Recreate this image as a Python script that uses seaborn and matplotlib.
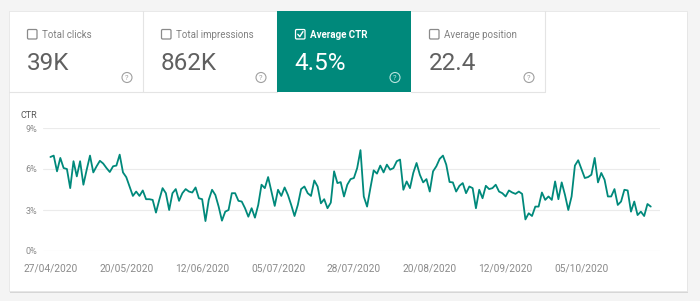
import matplotlib
matplotlib.use("Agg")
import matplotlib.pyplot as plt
import seaborn as sns
import pandas as pd
import numpy as np
from matplotlib.patches import Rectangle, Circle, FancyBboxPatch

# ---------------- data ----------------
start_date = "2020-04-27"
ctr_values = [
    6.88, 6.98, 5.83, 6.81, 6.07, 6.0, 4.6, 6.57, 5.46, 6.57, 4.85, 5.95, 6.98, 5.75, 6.2, 6.6,
    6.4, 6.07, 5.78, 6.2, 6.25, 7.05, 5.75, 5.4, 4.72, 4.03, 4.35, 4.03, 4.43, 3.79, 3.79,
    3.74, 2.81, 3.74, 4.6, 4.23, 3.0, 4.23, 4.53, 3.67, 4.23, 4.53, 4.35, 4.28, 4.65, 3.86,
    3.79, 2.19, 3.74, 4.48, 4.1, 3.25, 2.22, 2.88, 3.0, 4.23, 4.23, 3.67, 3.62, 3.13, 2.51,
    3.13, 2.44, 3.37, 4.85, 4.6, 5.41, 4.35, 3.3, 4.48, 4.03, 4.65, 4.1, 3.37, 2.56, 3.37,
    4.53, 4.72, 4.23, 4.03, 5.16, 4.72, 3.49, 3.79, 3.13, 3.54, 5.83, 4.97, 5.04, 3.99, 4.85,
    5.26, 5.34, 6.07, 7.38, 3.99, 3.25, 4.6, 5.9, 5.66, 6.25, 5.75, 6.32, 5.95, 6.07, 6.57,
    6.69, 4.48, 5.09, 4.6, 5.71, 6.44, 5.58, 5.02, 5.26, 4.35, 5.83, 6.2, 6.74, 6.98, 6.32, 5.05,
    5.02, 4.35, 4.77, 4.97, 4.23, 4.72, 4.6, 3.13, 4.48, 3.86, 4.77, 4.53, 4.6, 4.85, 4.35,
    4.23, 3.99, 4.43, 4.28, 4.18, 4.35, 4.18, 2.31, 2.76, 2.56, 3.25, 3.25, 4.28, 3.74, 3.99,
    3.74, 5.09, 3.79, 5.02, 4.1, 3.0, 3.99, 6.25, 6.64, 6.0, 5.34, 5.41, 5.58, 6.81, 5.02,
    5.71, 5.21, 3.99, 3.99, 4.53, 3.37, 3.62, 4.48, 4.43, 2.88, 3.62, 2.63, 2.88, 2.56, 3.44, 3.25,
]
tick_dates = ["2020-04-27", "2020-05-20", "2020-06-12", "2020-07-05",
              "2020-07-28", "2020-08-20", "2020-09-12", "2020-10-05"]
tick_labels = ["27/04/2020", "20/05/2020", "12/06/2020", "05/07/2020",
               "28/07/2020", "20/08/2020", "12/09/2020", "05/10/2020"]
y_ticks = [0, 3, 6, 9]
y_tick_labels = ["0%", "3%", "6%", "9%"]

tab_labels = ["Total clicks", "Total impressions", "Average CTR", "Average position"]
tab_values = ["39K", "862K", "4.5%", "22.4"]
tab_selected = [False, False, True, False]

dates = pd.date_range(start_date, periods=len(ctr_values), freq="D")
df = pd.DataFrame({"date": dates, "ctr": ctr_values})

# ---------------- style ----------------
sns.set_theme(style="white")
plt.rcParams["font.family"] = ["Roboto", "DejaVu Sans"]

TEAL = "#00897b"
W, H = 700, 301
fig = plt.figure(figsize=(W / 100, H / 100), dpi=100)
fig.patch.set_facecolor("#f4f4f4")

bg = fig.add_axes([0, 0, 1, 1])
bg.set_xlim(0, W)
bg.set_ylim(H, 0)
bg.axis("off")

# card with shadow
bg.add_patch(Rectangle((9.5, 12.5), 678, 280, facecolor="#d6d6d6", edgecolor="none", zorder=1))
bg.add_patch(Rectangle((9, 11), 678, 280, facecolor="white", edgecolor="#e6e6e6", lw=0.6, zorder=2))

tab_x0 = [9, 143, 277, 411]
tab_w = 134
tab_top, tab_bot = 11, 92
for i, (lab, val, sel) in enumerate(zip(tab_labels, tab_values, tab_selected)):
    x0 = tab_x0[i]
    if sel:
        bg.add_patch(Rectangle((x0, tab_top), tab_w, tab_bot - tab_top,
                               facecolor=TEAL, edgecolor="none", zorder=3))
        txt_c, lab_c, box_c, q_c = "white", "white", "white", "#b9e3de"
    else:
        txt_c, lab_c, box_c, q_c = "#606060", "#808080", "#8a8a8a", "#a0a0a0"
        bg.plot([x0, x0 + tab_w], [tab_bot, tab_bot], color="#e4e4e4", lw=0.8, zorder=3)
        bg.plot([x0 + tab_w, x0 + tab_w], [tab_top, tab_bot], color="#e4e4e4", lw=0.8, zorder=3)
    # checkbox
    bg.add_patch(FancyBboxPatch((x0 + 18.5, 29.5), 9.5, 9.5,
                                boxstyle="round,pad=0,rounding_size=1.2",
                                facecolor="none", edgecolor=box_c, lw=0.9, zorder=4))
    if sel:
        bg.plot([x0 + 20.8, x0 + 22.8, x0 + 26.0], [34.3, 36.6, 31.6],
                color="white", lw=1.0, zorder=5, solid_capstyle="round")
    bg.text(x0 + 33, 34.5, lab, fontsize=7, color=lab_c, va="center", ha="left",
            fontweight="bold" if sel else "normal", zorder=5)
    bg.text(x0 + 17.5, 70, val, fontsize=17.5, color=txt_c, va="baseline", ha="left",
            fontweight="normal", zorder=5)
    # help icon
    bg.add_patch(Circle((x0 + 118, 77.5), 5, facecolor="none", edgecolor=q_c, lw=0.8, zorder=5))
    bg.text(x0 + 118, 77.9, "?", fontsize=5.5, color=q_c, ha="center", va="center", zorder=5)

bg.text(20.5, 116, "CTR", fontsize=6.5, color="#555555", ha="left", va="center", zorder=5)

# ---------------- chart ----------------
left_px, right_px = 42.5, 660
top_px, bot_px = 128, 251
ax = fig.add_axes([left_px / W, (H - bot_px) / H, (right_px - left_px) / W, (bot_px - top_px) / H])
ax.set_facecolor("none")
ax.set_zorder(10)

sns.lineplot(data=df, x="date", y="ctr", ax=ax, color=TEAL, lw=1.3, zorder=5)

ax.set_ylim(0, 9)
ax.set_xlim(dates[0] - pd.Timedelta(days=2.4), dates[-1] + pd.Timedelta(days=2.8))
ax.set_yticks(y_ticks)
ax.set_yticklabels(y_tick_labels)
ax.set_xticks(pd.to_datetime(tick_dates))
ax.set_xticklabels(tick_labels)
ax.tick_params(axis="y", length=0, labelsize=6.5, labelcolor="#8a8a8a", pad=4)
ax.tick_params(axis="x", length=0, labelsize=7.3, labelcolor="#8a8a8a", pad=9)
ax.grid(axis="y", color="#ebebeb", lw=0.8)
ax.grid(axis="x", visible=False)
ax.set_axisbelow(True)
for s in ax.spines.values():
    s.set_visible(False)
ax.set_xlabel("")
ax.set_ylabel("")

fig.savefig("out.png", dpi=100, facecolor=fig.get_facecolor())
